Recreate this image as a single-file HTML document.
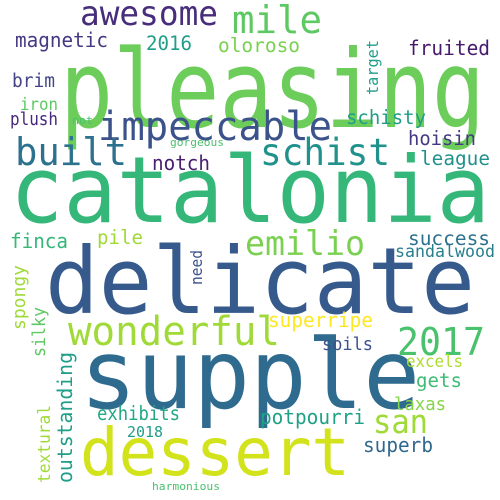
<!DOCTYPE html>
<html><head><meta charset="utf-8"><style>
html,body{margin:0;padding:0;background:#fff;}
svg{display:block;}
text{font-family:"DejaVu Sans Mono","Liberation Mono",monospace;}
</style></head><body>
<svg id="cloud" width="500" height="500" viewBox="0 0 500 500">
<rect width="500" height="500" fill="#fff"/>
</svg>
<script>
// word, x, baseline y, font-size, width, color, vertical
const words = ["pleasing","catalonia","delicate","supple","dessert","awesome","mile","impeccable","built","schist","emilio","wonderful","2017","san","superripe","soils","excels","gets","laxas","potpourri","superb","sandalwood","success","league","hoisin","schisty","fruited","oloroso","2016","magnetic","brim","iron","plush","not","gorgeous","notch","finca","pile","exhibits","2018","harmonious","target","need","spongy","silky","outstanding","textural"];
const xs = [60,10,45,80,80,80,232,98,15,260,245,68,397,373,268,322,406,416,394,260,363,395,408,420,408,346,408,218,146,15,12,20,10,72,170,152,10,97,97,127,152,378,202,25,45,72,50];
const ys = [127,222,313,408,475,25,33,140,165,165,255,345,355,433,327,350,367,387,410,424,452,257,245,165,145,124,55,52,50,47,87,110,125,124,146,170,248,244,420,437,490,95,285,330,357,483,483];
const sizes = [108,92,92,96,66,34,38,40,38,37,34,40,38,33,20,17.5,16.5,19.5,17.5,20,20,17,19.5,19.5,19.5,19.5,20,19.5,19.5,20,18.5,16.5,17.5,11,11,20,20,19.5,19.5,15.5,11,16,16,18,18,20,17];
const widths = [425,480,430,340,270,138,90,234,112,130,120,212,88,55,105,51,57,46,52,105,70,100,82,70,68,80,82,82,46,93,43,38,48,21,54,58,58,46,83,36,68,55,35,65,50,131,78];
const colors = ["#6ccd5a","#35b779","#375a8c","#2f6b8e","#d2e21b","#472d7b","#5ec962","#3b528b","#2c728e","#21918c","#7ad151","#a0da39","#4ac16d","#a0da39","#fde725","#3b528b","#addc30","#3fbc73","#86d549","#1fa187","#31688e","#277f8e","#2c728e","#21918c","#443983","#1f9e89","#481a6c","#7ad151","#1f9e89","#443983","#414487","#5ec962","#482878","#4ac16d","#4ac16d","#481f70","#35b779","#a0da39","#22a884","#1f9e89","#4ac16d","#1f9e89","#3b528b","#a0da39","#5ec962","#1f9e89","#a0da39"];
const vertical = [0,0,0,0,0,0,0,0,0,0,0,0,0,0,0,0,0,0,0,0,0,0,0,0,0,0,0,0,0,0,0,0,0,0,0,0,0,0,0,0,0,1,1,1,1,1,1];
const svg = document.getElementById('cloud');
const NS = 'http://www.w3.org/2000/svg';
words.forEach((w,i)=>{
  const t = document.createElementNS(NS,'text');
  
  
  t.setAttribute('x', xs[i]);
  t.setAttribute('y', ys[i]);
  t.setAttribute('font-size', sizes[i]);
  t.setAttribute('fill', colors[i]);
  t.setAttribute('textLength', widths[i]);
  t.setAttribute('lengthAdjust', 'spacingAndGlyphs');
  if (vertical[i]) t.setAttribute('transform', 'rotate(-90 ' + xs[i] + ' ' + ys[i] + ')');
  t.textContent = w;
  svg.appendChild(t);
});
</script>
</body></html>
